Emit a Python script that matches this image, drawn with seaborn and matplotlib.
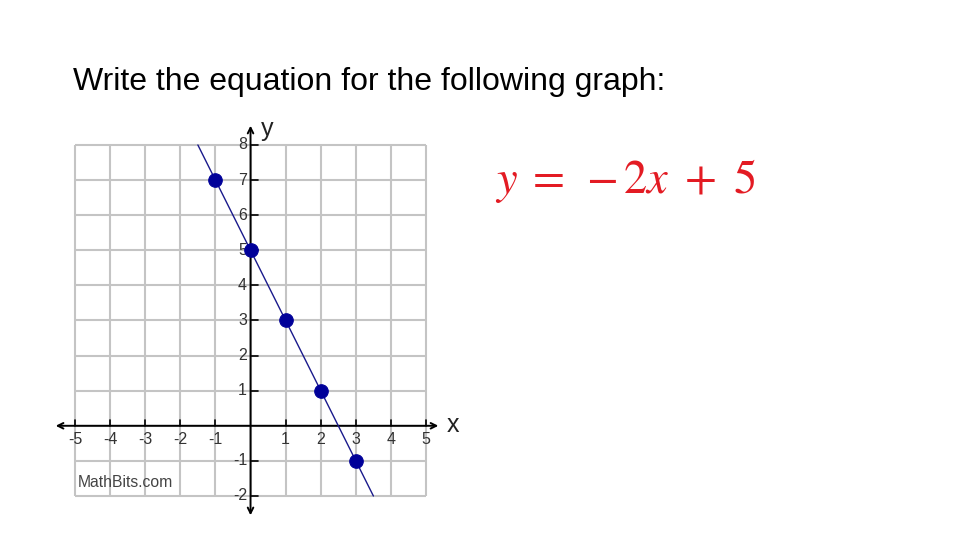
import numpy as np
import pandas as pd
import matplotlib
matplotlib.use("Agg")
import matplotlib.pyplot as plt
import seaborn as sns

# data
pts_x = [-1, 0, 1, 2, 3]
pts_y = [7, 5, 3, 1, -1]
slope = -2
intercept = 5
line_x = np.array([-1.5, 3.5])   # where the line leaves the grid
x_ticks = [-5, -4, -3, -2, -1, 1, 2, 3, 4, 5]
y_ticks = [-2, -1, 1, 2, 3, 4, 5, 6, 7, 8]
grid_x = list(range(-5, 6))
grid_y = list(range(-2, 9))

sns.set_style("white")
plt.rcParams["font.family"] = ["Liberation Sans", "DejaVu Sans"]
plt.rcParams["mathtext.fontset"] = "stix"

fig = plt.figure(figsize=(9.6, 5.4), dpi=100)
ax = fig.add_axes([0.04156, 0.0165, 0.4571, 0.78])
ax.set_xlim(-6, 6.5)
ax.set_ylim(-3, 9)
ax.axis("off")

# grid
grid_col = "#c4c4c4"
ax.vlines(grid_x, min(grid_y), max(grid_y), color=grid_col, lw=1.5, zorder=1)
ax.hlines(grid_y, min(grid_x), max(grid_x), color=grid_col, lw=1.5, zorder=1)

# axes with arrows
ax.annotate("", xy=(-5.55, 0), xytext=(5.35, 0),
            arrowprops=dict(arrowstyle="<->", color="black", lw=1.4,
                            shrinkA=0, shrinkB=0), zorder=2)
ax.annotate("", xy=(0, -2.55), xytext=(0, 8.55),
            arrowprops=dict(arrowstyle="<->", color="black", lw=1.4,
                            shrinkA=0, shrinkB=0), zorder=2)

# small ticks
for t in x_ticks:
    ax.plot([t, t], [0, 0.17], color="black", lw=1.2, zorder=2)
for t in y_ticks:
    ax.plot([0, 0.2], [t, t], color="black", lw=1.2, zorder=2)

# tick labels
for t in x_ticks:
    ax.text(t, -0.4, str(t), ha="center", va="center", fontsize=11.5, color="#333333")
for t in y_ticks:
    ax.text(-0.1, t, str(t), ha="right", va="center", fontsize=11.5, color="#333333")

ax.text(5.6, 0.02, "x", ha="left", va="center", fontsize=18, color="#222222")
ax.text(0.3, 8.45, "y", ha="left", va="center", fontsize=18, color="#222222")
ax.text(-4.92, -1.62, "MathBits.com", ha="left", va="center", fontsize=11.3, color="#444444")

# the line and points
sns.lineplot(x=line_x, y=slope * line_x + intercept, ax=ax, color="#1a1a8c",
             lw=1, zorder=3)
sns.scatterplot(x=pts_x, y=pts_y, ax=ax, color="#000099", s=95,
                edgecolor="#000099", zorder=4)

fig.text(73 / 960, (540 - 82) / 540, "Write the equation for the following graph:",
         ha="left", va="center", fontsize=23, color="black")
fig.text(495 / 960, (540 - 181) / 540, r"$y\;{=}\;\,{-}\,2x\:\;{+}\:\;5$", ha="left",
         va="center", fontsize=33.5, color="#e31b23")

fig.savefig("out.png", dpi=100)
